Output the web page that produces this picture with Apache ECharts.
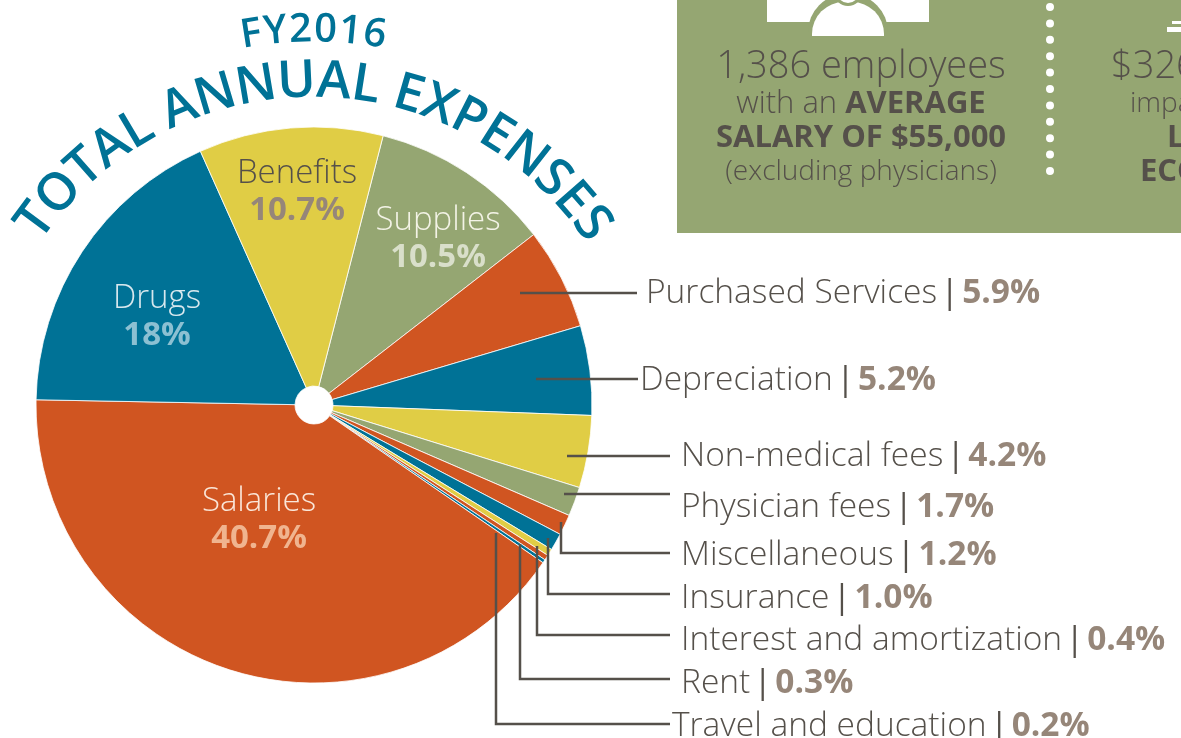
<!DOCTYPE HTML>
<html>
<head>
	<meta charset="utf-8">
	<title>FY2016 Total Annual Expenses</title>
	<script src="https://cdn.jsdelivr.net/npm/echarts@6/dist/echarts.min.js"></script>
	<style>
		html, body { margin: 0; padding: 0; background: #fff; overflow: hidden; }
		#main { width: 1181px; height: 738px; }
	</style>
	<script type="text/javascript">
		// slices, clockwise from Supplies
		var categories = ['Supplies', 'Purchased Services', 'Depreciation', 'Non-medical fees', 'Physician fees', 'Miscellaneous', 'Insurance', 'Interest and amortization', 'Rent', 'Travel and education', 'Salaries', 'Drugs', 'Benefits'];
		var expenseValues = [10.5, 5.9, 5.2, 4.2, 1.7, 1.2, 1.0, 0.4, 0.3, 0.2, 40.7, 18, 10.7];
		var percentLabels = ['10.5%', '5.9%', '5.2%', '4.2%', '1.7%', '1.2%', '1.0%', '0.4%', '0.3%', '0.2%', '40.7%', '18%', '10.7%'];

		var ORANGE = '#d05521', BLUE = '#007296', YELLOW = '#e0cd45', GREEN = '#95a672';
		var INK = '#55504a', TAUPE = '#968679';
		var FONT = 'Open Sans';
		var sliceColors = [GREEN, ORANGE, BLUE, YELLOW, GREEN, ORANGE, BLUE, YELLOW, ORANGE, BLUE, ORANGE, BLUE, YELLOW];

		// layout of the labels inside the big slices: index -> [x, y, name colour, percent colour]
		var insideLabels = {
			0: [438, 239, '#f3f3e6', '#d9dfca'],
			10: [259, 520, '#fae6d8', '#f0b48f'],
			11: [157, 317, '#d8e8ee', '#8cc0d2'],
			12: [297, 192, INK, TAUPE]
		};
		// layout of the outside labels: index -> [text x, text y, leader points]
		var outsideLabels = {
			1: [646, 293, [[520, 293], [637, 293]]],
			2: [640, 380, [[536, 379], [638, 379]]],
			3: [681, 456, [[567, 456], [670, 456]]],
			4: [681, 507, [[564, 494], [670, 494]]],
			5: [681, 555, [[561, 522], [561, 553], [670, 553]]],
			6: [681, 598, [[548, 538], [548, 594], [670, 594]]],
			7: [681, 640, [[537, 546], [537, 635], [670, 635]]],
			8: [681, 683, [[520, 544], [520, 679], [670, 679]]],
			9: [672, 726, [[496, 533], [496, 724], [670, 724]]]
		};

		function measure(str, font) {
			var ctx = document.createElement('canvas').getContext('2d');
			ctx.font = font;
			return ctx.measureText(str).width;
		}

		// one text element per letter, spread along an arc (angles clockwise from top)
		function arcText(str, cx, cy, r, from, to, font, color) {
			var total = 0, widths = [], els = [], i;
			for (i = 0; i < str.length; i++) {
				widths.push(measure(str.charAt(i), font));
				total += widths[i];
			}
			total -= (widths[0] + widths[str.length - 1]) / 2;
			var span = (to - from) * Math.PI / 180;
			var extra = (span * r - total) / (str.length - 1);
			var pos = from * Math.PI / 180 - widths[0] / 2 / r;
			for (i = 0; i < str.length; i++) {
				var a = pos + widths[i] / 2 / r;
				els.push({
					type: 'text',
					x: cx + r * Math.sin(a),
					y: cy - r * Math.cos(a),
					rotation: -a,
					style: { text: str.charAt(i), font: font, fill: color, align: 'center', verticalAlign: 'middle' }
				});
				pos += (widths[i] + extra) / r;
			}
			return els;
		}

		function boxText(str, x, y, font, align) {
			return {
				type: 'text', x: x, y: y,
				style: { text: str, font: font, fill: INK, align: align || 'center', verticalAlign: 'middle' }
			};
		}

		function richStyle(size, weight, color) {
			return { fontFamily: FONT, fontSize: size, fontWeight: weight, color: color, fill: color };
		}

		function showExpenses() {
			var myChart = echarts.init(document.getElementById('main'));
			var seriesData = [];
			var i;
			for (i = 0; i < categories.length; i++) {
				var inside = insideLabels[i];
				var item = { name: categories[i], value: expenseValues[i], itemStyle: { color: sliceColors[i] } };
				if (inside) {
					item.label = {
						formatter: '{n|' + categories[i] + '}\n{p|' + percentLabels[i] + '}',
						lineHeight: 37,
						rich: {
							n: richStyle(33, 300, inside[2]),
							p: richStyle(33, 700, inside[3])
						}
					};
				} else {
					item.label = {
						formatter: '{n|' + categories[i] + '} {s||} {p|' + percentLabels[i] + '}',
						rich: {
							n: richStyle(33.5, 300, INK),
							s: richStyle(33.5, 400, INK),
							p: richStyle(33.5, 700, TAUPE)
						}
					};
				}
				seriesData.push(item);
			}

			var graphics = [
				{ type: 'rect', shape: { x: 677, y: 0, width: 504, height: 233 }, style: { fill: GREEN } },
				// person icon, cut by the top edge
				{ type: 'rect', shape: { x: 767, y: -40, width: 162, height: 62, r: [40, 40, 0, 0] }, style: { fill: '#fff' } },
				{ type: 'rect', shape: { x: 808, y: -6, width: 80, height: 42, r: [38, 38, 0, 0] }, style: { fill: GREEN } },
				{ type: 'rect', shape: { x: 812, y: 2, width: 72, height: 34, r: [32, 32, 0, 0] }, style: { fill: '#fff' } },
				{ type: 'circle', shape: { cx: 848, cy: -8, r: 14 }, style: { fill: GREEN } },
				{ type: 'circle', shape: { cx: 848, cy: -8, r: 11 }, style: { fill: '#fff' } },
				{ type: 'rect', shape: { x: 1167, y: 27, width: 14, height: 5 }, style: { fill: '#fff' } },
				{ type: 'rect', shape: { x: 1172, y: 21, width: 9, height: 3 }, style: { fill: '#fff' } },
				// dotted divider
				{ type: 'line', shape: { x1: 1050, y1: 7, x2: 1050, y2: 171 }, style: { stroke: '#fff', lineWidth: 8, lineCap: 'round', lineDash: [0, 16.4] } },
				boxText('1,386 employees', 861, 67, '300 38px ' + FONT),
				{
					type: 'text', x: 861, y: 104,
					style: {
						text: '{a|with an }{b|AVERAGE}', align: 'center', verticalAlign: 'middle',
						rich: { a: richStyle(31, 300, INK), b: richStyle(31, 700, INK) }
					}
				},
				boxText('SALARY OF $55,000', 861, 138, '700 31px ' + FONT),
				boxText('(excluding physicians)', 861, 172, '300 28px ' + FONT),
				boxText('$326', 1111, 67, '300 38px ' + FONT, 'left'),
				boxText('impa', 1130, 104, '300 28px ' + FONT, 'left'),
				boxText('L', 1167, 138, '700 31px ' + FONT, 'left'),
				boxText('ECO', 1140, 172, '700 31px ' + FONT, 'left')
			];
			graphics = graphics.concat(arcText('TOTAL ANNUAL EXPENSES', 313, 426, 344, -53.5, 54, '600 52px ' + FONT, BLUE));
			graphics = graphics.concat(arcText('FY2016', 313, 425, 395, -9, 9, '600 40px ' + FONT, BLUE));
			// leader lines sit on top of the slices
			for (i in outsideLabels) {
				graphics.push({
					type: 'polyline', z: 5,
					shape: { points: outsideLabels[i][2] },
					style: { fill: 'none', stroke: INK, lineWidth: 2.5 }
				});
			}

			var option = {
				backgroundColor: '#fff',
				animation: false,
				graphic: { elements: graphics },
				series: [
					{
						type: 'pie',
						center: [314, 405],
						radius: [19, 278],
						startAngle: 75.6,
						clockwise: true,
						avoidLabelOverlap: false,
						itemStyle: { borderColor: '#fff', borderWidth: 0.8 },
						emphasis: { disabled: true },
						label: { show: true, position: 'outside' },
						labelLine: { show: false },
						labelLayout: function(params) {
							var inside = insideLabels[params.dataIndex];
							if (inside) {
								return { x: inside[0], y: inside[1], align: 'center', verticalAlign: 'middle' };
							}
							var out = outsideLabels[params.dataIndex];
							return { x: out[0], y: out[1], align: 'left', verticalAlign: 'middle' };
						},
						data: seriesData
					}
				]
			};
			myChart.setOption(option);
		}

		window.onload = function() {
			showExpenses();
		}
	</script>
</head>
<body>
	<div id="main"></div>
</body>
</html>
